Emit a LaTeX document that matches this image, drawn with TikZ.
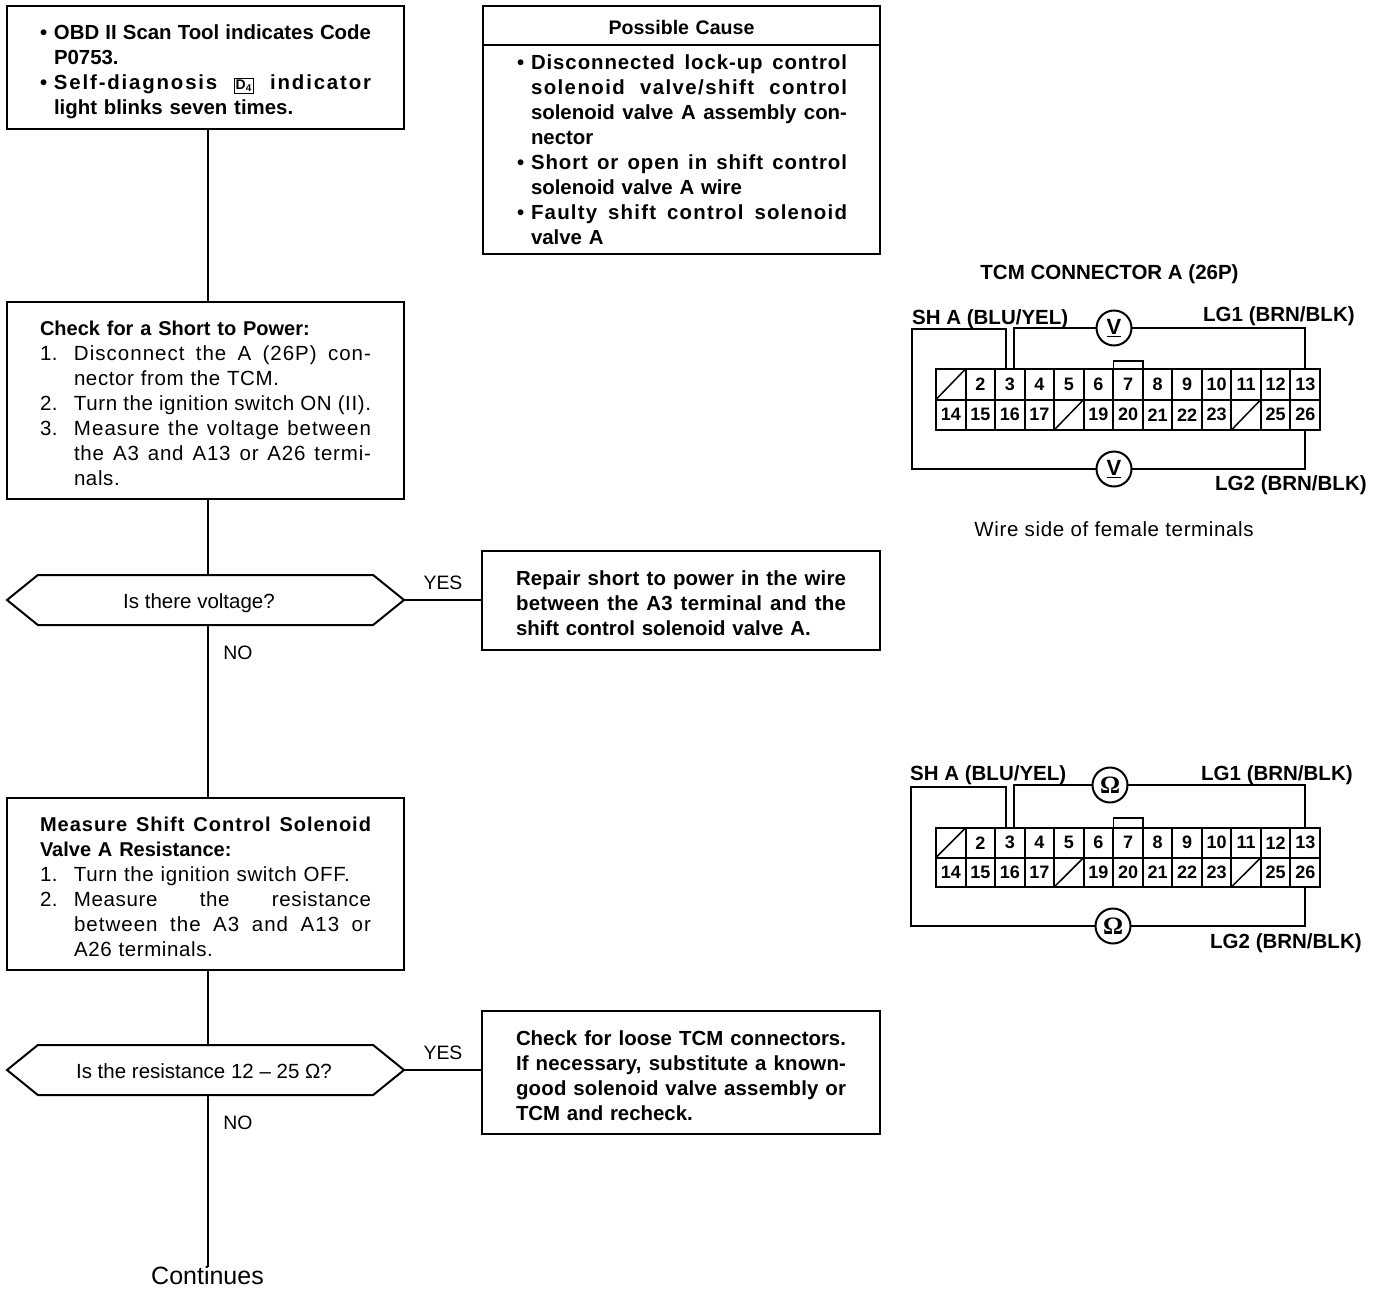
\documentclass[tikz,border=0pt]{standalone}
\usepackage{fontspec}
\setmainfont{Liberation Sans}
\newfontfamily\meterfont{Liberation Serif}
\newfontfamily\plainfont[LetterSpace=3]{Liberation Sans}
\usetikzlibrary{positioning,shapes.symbols}

% stretched line (width, tracking, text), bullet and step number of the flow chart text
\newcommand{\fitline}[3]{\makebox[#1pt][s]{\addfontfeature{LetterSpace=#2}\spaceskip=0pt\xspaceskip=0pt #3}}
\newcommand{\bul}{\makebox[14pt][l]{\textbullet}}
\newcommand{\stepno}[1]{\makebox[34pt][l]{#1.}}
\newcommand{\dfour}{{\fboxsep=1pt\fboxrule=1.2pt\fbox{\addfontfeature{LetterSpace=0}\fontsize{14}{14}\selectfont D\textsubscript{4}}}}
\newcommand{\headline}[1]{{\normalfont\bfseries\fontsize{20}{25}\selectfont #1}}
\newcommand{\drop}[1]{\rule{0pt}{\dimexpr 15pt+#1pt\relax}} % pushes a box text down by half the amount
\newcommand{\nudge}[2]{\hspace*{#1pt}\rule{0pt}{#2pt}}

\begin{document}
\begin{tikzpicture}[x=1pt,y=-1pt]

\tikzset{flowbox/.style 2 args={draw, line width=2pt, anchor=north west, outer sep=0pt,
    inner xsep=#2pt, inner ysep=0pt, text width=#1pt-2*#2pt, align=left,
    font=\fontsize{20.5}{25}\plainfont\selectfont},
  boldbox/.style={font=\fontsize{20.4}{25}\selectfont\bfseries},
  decision/.style={draw, line width=2pt, shape=signal, signal to=west and east,
    signal pointer angle=78, minimum width=397pt, minimum height=50pt, inner sep=0pt,
    outer sep=0pt, font=\fontsize{20.5}{24}\selectfont},
  flowline/.style={line width=2pt},
  plainlabel/.style={inner sep=0pt, font=\fontsize{19.4}{24}\selectfont},
  pinlabel/.style={inner sep=0pt, anchor=west, font=\fontsize{20.5}{22}\selectfont\bfseries},
  cell/.style={draw, line width=2pt, minimum width=29.54pt, inner sep=0pt, outer sep=0pt,
    font=\fontsize{18}{20}\selectfont\bfseries},
  meter/.style={draw, circle, line width=2pt, minimum size=35pt, inner sep=0pt, outer sep=0pt,
    font=\fontsize{22}{24}\selectfont\bfseries},
  wire/.style={line width=2pt}}

\useasboundingbox (0,0) rectangle (1376,1292);
\def\trunk{2} % main line sits right of the box centres

% Left column
\node[flowbox={397}{33}, boldbox, minimum height=123pt] (start) at (7,6) {\drop{9}%
  \bul\fitline{317}{0}{OBD II Scan Tool indicates Code}\\
  \hspace*{14pt}P0753.\\
  \bul\fitline{317}{9}{Self-diagnosis \dfour\ indicator}\\
  \hspace*{14pt}light blinks seven times.};

\node[flowbox={397}{33}, minimum height=197pt] (short) at (7,302) {\drop{5}%
  \headline{Check for a Short to Power:}\\
  \stepno{1}\fitline{297}{5}{Disconnect the A (26P) con-}\\
  \hspace*{34pt}nector from the TCM.\\
  \stepno{2}\fitline{297}{3}{Turn the ignition switch ON (II).}\\
  \stepno{3}\fitline{297}{5}{Measure the voltage between}\\
  \hspace*{34pt}\fitline{297}{4}{the A3 and A13 or A26 termi-}\\
  \hspace*{34pt}nals.};

\node[decision] (volt) at (205.5,600) {\nudge{-13}{21}Is there voltage?};

\node[flowbox={397}{33}, minimum height=172pt] (resist) at (7,798) {\drop{6}%
  \headline{\fitline{331}{5}{Measure Shift Control Solenoid}}\\
  \headline{Valve A Resistance:}\\
  \stepno{1}Turn the ignition switch OFF.\\
  \stepno{2}\fitline{297}{3}{Measure the resistance}\\
  \hspace*{34pt}\fitline{297}{5}{between the A3 and A13 or}\\
  \hspace*{34pt}A26 terminals.};

\node[decision] (ohms) at (205.5,1070) {\nudge{-3}{17}Is the resistance 12 -- 25 Ω?};

\node[inner sep=0pt, font=\fontsize{25}{28}\selectfont] (cont) at (207.5,1276) {Continues};

\draw[flowline] ([xshift=\trunk]start.south) -- ([xshift=\trunk]short.north);
\draw[flowline] ([xshift=\trunk]short.south) -- ([xshift=\trunk]volt.north);
\draw[flowline] ([xshift=\trunk]volt.south) -- ([xshift=\trunk]resist.north);
\draw[flowline] ([xshift=\trunk]resist.south) -- ([xshift=\trunk]ohms.north);
\draw[flowline] ([xshift=\trunk]ohms.south) -- (cont.north);

\node[plainlabel] (novolt) at (238,653) {NO};
\node[plainlabel] (noohms) at (238,1123) {NO};
\node[plainlabel] (yesvolt) at (443,583) {YES};
\node[plainlabel] (yesohms) at (443,1053) {YES};

% Middle column
\node[flowbox={397}{0}, minimum height=39pt, align=center, font=\fontsize{19.6}{22}\selectfont\bfseries] (causehead) at (483,6) {\rule{0pt}{19pt}Possible Cause};
\node[flowbox={397}{34}, boldbox, minimum height=209pt] (causes) at (483,45) {\drop{1}%
  \bul\fitline{316}{4.5}{Disconnected lock-up control}\\
  \hspace*{14pt}\fitline{316}{7}{solenoid valve/shift control}\\
  \hspace*{14pt}\fitline{316}{0}{solenoid valve A assembly con-}\\
  \hspace*{14pt}nector\\
  \bul\fitline{316}{4.5}{Short or open in shift control}\\
  \hspace*{14pt}solenoid valve A wire\\
  \bul\fitline{316}{6}{Faulty shift control solenoid}\\
  \hspace*{14pt}valve A};

\node[flowbox={398}{34}, boldbox, minimum height=99pt] (repair) at (482,551) {\drop{5}%
  \fitline{330}{1}{Repair short to power in the wire}\\
  \fitline{330}{1.5}{between the A3 terminal and the}\\
  shift control solenoid valve A.};

\node[flowbox={398}{34}, boldbox, minimum height=123pt] (recheck) at (482,1011) {\drop{6}%
  \fitline{330}{0}{Check for loose TCM connectors.}\\
  \fitline{330}{1}{If necessary, substitute a known-}\\
  \fitline{330}{1}{good solenoid valve assembly or}\\
  TCM and recheck.};

\draw[flowline] (volt.east) -- (volt.east -| repair.west);
\draw[flowline] (ohms.east) -- (ohms.east -| recheck.west);

% Connector cells, both drawings
\foreach \c/\ytop/\rowh/\tabh in {A/369/30.5/8,B/828/29.5/10}{
  \foreach \n in {1,...,26}{
    \pgfmathtruncatemacro{\col}{mod(\n-1,13)}
    \pgfmathtruncatemacro{\row}{(\n-1)/13}
    \node[cell, minimum height=\rowh pt] (\c\n) at (950.77+\col*29.54,\ytop+\rowh/2+\row*\rowh)
      {\ifnum\n=1 \else\ifnum\n=18 \else\ifnum\n=24 \else\n\fi\fi\fi};
  }
  \draw[line width=1.5pt] (\c1.south west) -- (\c1.north east);
  \draw[line width=1.5pt] (\c18.south west) -- (\c18.north east);
  \draw[line width=1.5pt] (\c24.south west) -- (\c24.north east);
  \draw[line width=1.5pt] (\c7.north west) -- ++(0,-\tabh) -| (\c7.north east);
}

% Voltage check
\node[pinlabel, anchor=center] (titleA) at (1109.5,274) {TCM CONNECTOR A (26P)};
\node[pinlabel] (shA) at (912,319) {SH A (BLU/YEL)};
\node[pinlabel] (lgoneA) at (1203,316) {LG1 (BRN/BLK)};
\node[pinlabel] (lgtwoA) at (1215,485) {LG2 (BRN/BLK)};
\node[inner sep=0pt, font=\fontsize{20.5}{24}\plainfont\selectfont] (wireside) at (1114,529) {Wire side of female terminals};
\node[meter] (Vtop) at (1114,328) {\underline{V}};
\node[meter] (Vbot) at (1114,469) {\underline{V}};
\coordinate (Acorner) at (912,329);
\draw[wire] ([xshift=-3.5pt]A3.north) |- (Acorner) |- (Vbot);
\draw[wire] ([xshift=4pt]A3.north) |- (Vtop);
\draw[wire] (Vtop) -| (A13.north);
\draw[wire] (Vbot) -| (A26.south);

% Resistance check
\node[pinlabel] (shB) at (910,775) {SH A (BLU/YEL)};
\node[pinlabel] (lgoneB) at (1201,775) {LG1 (BRN/BLK)};
\node[pinlabel] (lgtwoB) at (1210,943) {LG2 (BRN/BLK)};
\node[meter, font=\fontsize{25}{26}\selectfont\bfseries] (Otop) at (1110,785) {\meterfont Ω};
\node[meter, font=\fontsize{25}{26}\selectfont\bfseries] (Obot) at (1113,926) {\meterfont Ω};
\coordinate (Bcorner) at (911,787);
\draw[wire] ([xshift=-3.5pt]B3.north) |- (Bcorner) |- (Obot);
\draw[wire] ([xshift=4pt]B3.north) |- (Otop);
\draw[wire] (Otop) -| (B13.north);
\draw[wire] (Obot) -| (B26.south);

\end{tikzpicture}
\end{document}
